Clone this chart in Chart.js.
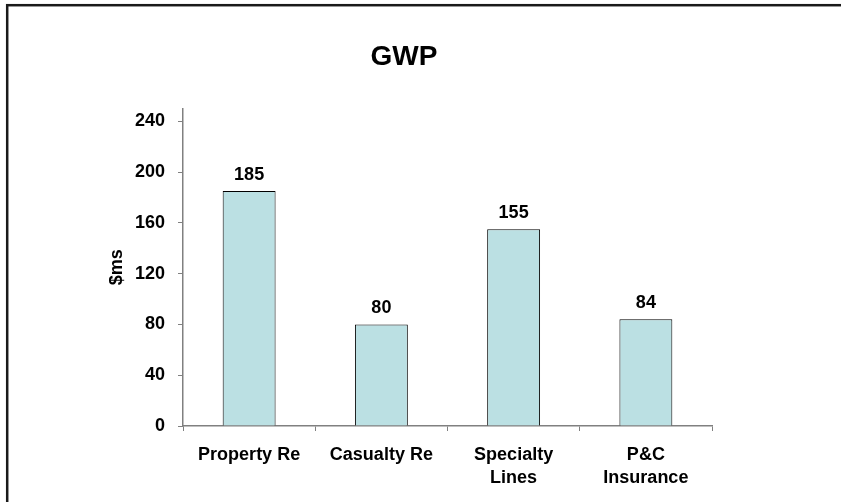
<!DOCTYPE html>
<html>
<head>
<meta charset="utf-8">
<script src="https://cdn.jsdelivr.net/npm/chart.js@4/dist/chart.umd.min.js"></script>
<style>
  body { margin: 0; background: #fff; }
  #wrap { width: 841px; height: 502px; position: relative; }
</style>
</head>
<body>
<div id="wrap"><canvas id="gwp"></canvas></div>
<script>
var categories = ["Property Re", "Casualty Re", ["Specialty", "Lines"], ["P&C", "Insurance"]];
var gwpValues = [185, 80, 155, 84];
var yTicks = [0, 40, 80, 120, 160, 200, 240];

var axisGrey = "#808080";
var font = "'Liberation Sans', Arial, sans-serif";

// outer frame around the whole chart
var framePlugin = {
  id: "frame",
  beforeDraw: function(chart) {
    var ctx = chart.ctx;
    ctx.save();
    ctx.strokeStyle = "#1a1a1a";
    ctx.lineWidth = 2.5;
    ctx.strokeRect(7.2, 5.2, 900, 600);
    ctx.restore();
  }
};

// value printed above each bar
var valuePlugin = {
  id: "values",
  afterDatasetsDraw: function(chart) {
    var ctx = chart.ctx;
    var meta = chart.getDatasetMeta(0);
    ctx.save();
    ctx.font = "bold 18px " + font;
    ctx.fillStyle = "#000";
    ctx.textAlign = "center";
    ctx.textBaseline = "alphabetic";
    meta.data.forEach(function(bar, i) {
      ctx.fillText(gwpValues[i], bar.x, bar.y - 11);
    });
    ctx.restore();
  }
};

new Chart(document.getElementById("gwp"), {
  type: "bar",
  data: {
    labels: categories,
    datasets: [{
      data: gwpValues,
      backgroundColor: "#BBE0E3",
      borderColor: "#000",
      borderWidth: 1,
      categoryPercentage: 1,
      barPercentage: 0.4
    }]
  },
  options: {
    responsive: true,
    maintainAspectRatio: false,
    animation: false,
    layout: { padding: { left: 96, right: 129, top: 0, bottom: 0 } },
    plugins: {
      legend: { display: false },
      tooltip: { enabled: false },
      title: {
        display: true,
        text: "GWP",
        color: "#000",
        font: { family: font, size: 28, weight: "bold" },
        padding: { top: 40, bottom: 35 }
      }
    },
    scales: {
      x: {
        grid: { drawOnChartArea: false, drawTicks: true, tickLength: 5, color: axisGrey, offset: true },
        border: { display: true, color: axisGrey, width: 1.5 },
        ticks: {
          color: "#000",
          font: { family: font, size: 18, weight: "bold", lineHeight: 1.3 },
          padding: 12,
          maxRotation: 0,
          autoSkip: false
        },
        afterFit: function(scale) { scale.height = 76; }
      },
      y: {
        min: 0,
        max: 250,
        grid: { drawOnChartArea: false, drawTicks: true, tickLength: 5, color: axisGrey },
        border: { display: true, color: axisGrey, width: 1.5 },
        ticks: {
          color: "#000",
          font: { family: font, size: 18, weight: "bold" },
          padding: 13
        },
        afterBuildTicks: function(scale) {
          scale.ticks = yTicks.map(function(v) { return { value: v }; });
        },
        title: {
          display: true,
          text: "$ms",
          color: "#000",
          font: { family: font, size: 18, weight: "bold" },
          padding: { top: 10, bottom: 0 }
        },
        afterFit: function(scale) { scale.width = 87; }
      }
    }
  },
  plugins: [framePlugin, valuePlugin]
});
</script>
</body>
</html>
